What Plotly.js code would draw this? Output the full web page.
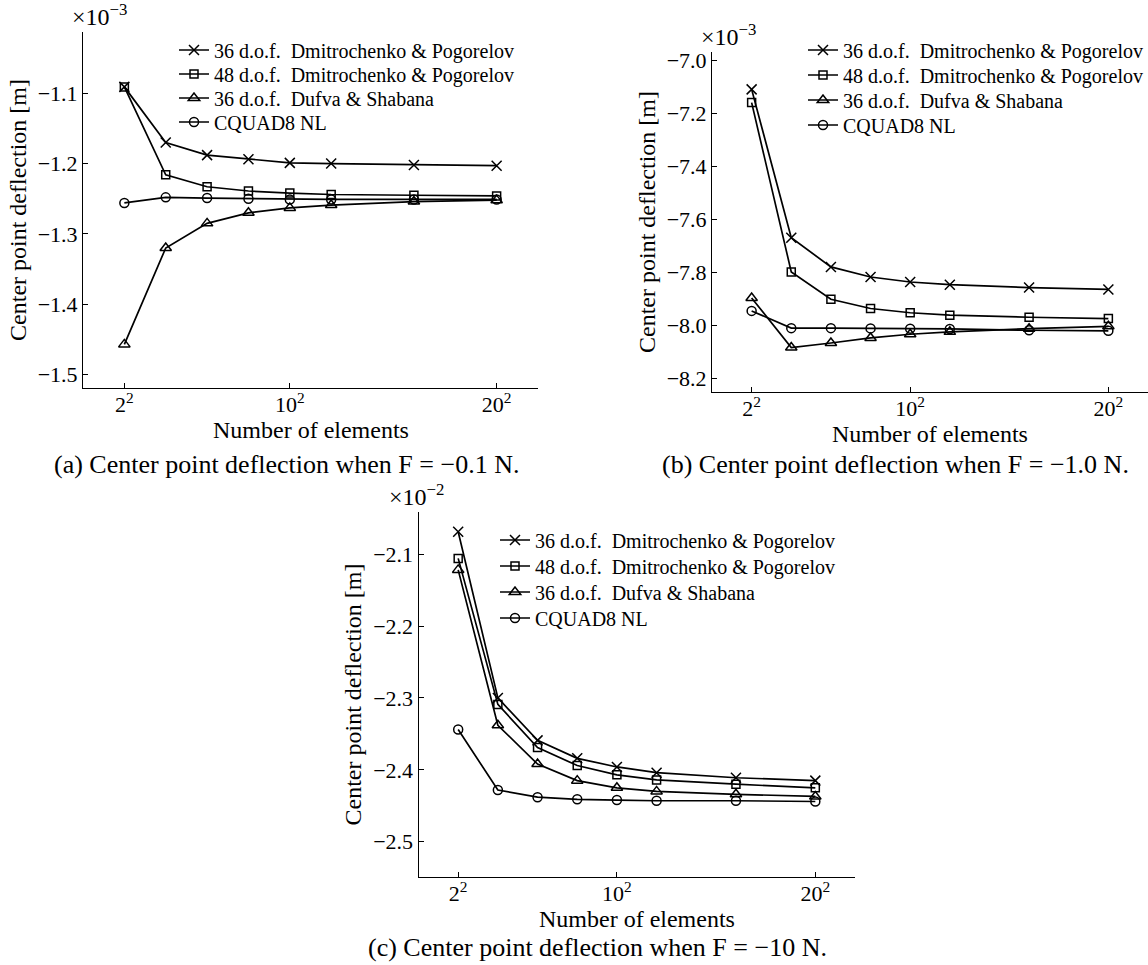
<!DOCTYPE html>
<html>
<head>
<meta charset="utf-8">
<script src="https://cdn.plot.ly/plotly-3.0.1.min.js"></script>
<style>
  html, body { margin: 0; padding: 0; background: #fff; }
  #chart { width: 1148px; height: 965px; }
</style>
</head>
<body>
<div id="chart"></div>
<script>
// Elements per side; number of elements = n^2
const elementsPerSide = [2, 4, 6, 8, 10, 12, 16, 20];
const xTickVals = [2, 10, 20];
const xTickText = ['2<sup>2</sup>', '10<sup>2</sup>', '20<sup>2</sup>'];

const seriesNames = [
  '36 d.o.f.  Dmitrochenko &amp; Pogorelov',
  '48 d.o.f.  Dmitrochenko &amp; Pogorelov',
  '36 d.o.f.  Dufva &amp; Shabana',
  'CQUAD8 NL'
];

// (a) F = -0.1 N, values in 1e-3 m
const dp36_a = [-1.091, -1.170, -1.188, -1.194, -1.199, -1.200, -1.202, -1.203];
const dp48_a = [-1.091, -1.216, -1.233, -1.239, -1.242, -1.244, -1.245, -1.246];
const ds36_a = [-1.457, -1.320, -1.285, -1.270, -1.263, -1.259, -1.254, -1.252];
const cq8_a  = [-1.256, -1.248, -1.249, -1.250, -1.251, -1.251, -1.251, -1.251];

// (b) F = -1.0 N, values in 1e-3 m
const dp36_b = [-7.110, -7.670, -7.780, -7.818, -7.837, -7.847, -7.858, -7.865];
const dp48_b = [-7.160, -7.799, -7.902, -7.937, -7.953, -7.962, -7.970, -7.975];
const ds36_b = [-7.897, -8.084, -8.067, -8.048, -8.034, -8.025, -8.013, -8.004];
const cq8_b  = [-7.946, -8.011, -8.011, -8.012, -8.013, -8.014, -8.019, -8.021];

// (c) F = -10 N, values in 1e-2 m
const dp36_c = [-2.069, -2.300, -2.359, -2.384, -2.396, -2.404, -2.411, -2.415];
const dp48_c = [-2.106, -2.309, -2.369, -2.394, -2.407, -2.414, -2.420, -2.425];
const ds36_c = [-2.122, -2.338, -2.392, -2.415, -2.425, -2.430, -2.434, -2.437];
const cq8_c  = [-2.344, -2.428, -2.438, -2.441, -2.442, -2.443, -2.443, -2.444];

const yTicks_a = [-1.5, -1.4, -1.3, -1.2, -1.1];
const yTicks_b = [-8.2, -8.0, -7.8, -7.6, -7.4, -7.2, -7.0];
const yTicks_c = [-2.5, -2.4, -2.3, -2.2, -2.1];

const W = 1148, H = 965;
const FONT = 'Liberation Serif, Times New Roman, serif';
const px = v => v / W;
const py = v => 1 - v / H;

const symbols = ['x-thin', 'square-open', 'triangle-up-open', 'circle-open'];
const sizes = [10, 8, 10, 9];

let legendCounter = 0;
const legendIds = [];
function makeTraces(sets, xa, ya) {
  return sets.map((ys, i) => {
    legendCounter += 1;
    const id = legendCounter === 1 ? 'legend' : 'legend' + legendCounter;
    legendIds.push(id);
    return {
      x: elementsPerSide,
      y: ys,
      name: seriesNames[i],
      type: 'scatter',
      mode: 'lines+markers',
      xaxis: xa,
      yaxis: ya,
      legend: id,
      line: { color: '#000', width: 1.7 },
      marker: { symbol: symbols[i], size: sizes[i], color: '#000',
                line: { color: '#000', width: 1.5 } }
    };
  });
}

const traces = [
  ...makeTraces([dp36_a, dp48_a, ds36_a, cq8_a], 'x', 'y'),
  ...makeTraces([dp36_b, dp48_b, ds36_b, cq8_b], 'x2', 'y2'),
  ...makeTraces([dp36_c, dp48_c, ds36_c, cq8_c], 'x3', 'y3')
];

const tickFont = { family: FONT, size: 22, color: '#000' };
const titleFont = { family: FONT, size: 24, color: '#000' };

function xAxis(domain, anchor) {
  return {
    domain: domain, anchor: anchor, range: [0, 22],
    tickvals: xTickVals, ticktext: xTickText,
    ticks: 'inside', ticklen: 5, tickwidth: 1, tickcolor: '#000',
    ticklabelstandoff: -3,
    showline: true, linecolor: '#000', linewidth: 1,
    showgrid: false, zeroline: false,
    tickfont: tickFont
  };
}
function yAxis(domain, anchor, range, tickvals) {
  return {
    domain: domain, anchor: anchor, range: range,
    tickvals: tickvals, tickformat: '.1f',
    ticks: 'inside', ticklen: 5, tickwidth: 1, tickcolor: '#000',
    showline: true, linecolor: '#000', linewidth: 1,
    showgrid: false, zeroline: false,
    tickfont: tickFont,
    title: { text: 'Center point deflection [m]', font: titleFont, standoff: 4 }
  };
}

const legendBase = {
  xanchor: 'left', yanchor: 'middle', bgcolor: 'rgba(0,0,0,0)',
  borderwidth: 0, font: { family: FONT, size: 20, color: '#000' },
  tracegroupgap: 0, itemwidth: 30
};
// legend rows (pixel x of legend box, pixel y of row centre)
const legendX = [174, 174, 174, 174, 803, 803, 803, 803, 495, 495, 495, 495];
const legendY = [50, 74, 98, 122, 50, 75, 100, 125, 540, 566, 592, 618];

function note(text, x, y, size, xanchor, yanchor) {
  return { text: text, x: px(x), y: py(y), xref: 'paper', yref: 'paper',
           xanchor: xanchor, yanchor: yanchor, showarrow: false,
           font: { family: FONT, size: size, color: '#000' } };
}

const layout = {
  width: W, height: H,
  margin: { l: 0, r: 0, t: 0, b: 0 },
  paper_bgcolor: '#fff', plot_bgcolor: '#fff',
  showlegend: true,
  font: { family: FONT, color: '#000' },
  xaxis:  xAxis([px(83), px(538)], 'y'),
  yaxis:  yAxis([py(388), py(32)], 'x', [-1.519, -1.013], yTicks_a),
  xaxis2: xAxis([px(712), px(1148)], 'y2'),
  yaxis2: yAxis([py(392), py(52)], 'x2', [-8.252, -6.969], yTicks_b),
  xaxis3: xAxis([px(418.5), px(855)], 'y3'),
  yaxis3: yAxis([py(877), py(512)], 'x3', [-2.549, -2.0415], yTicks_c),
  annotations: [
    note('×10<sup>−3</sup>', 70, 32, 24, 'left', 'bottom'),
    note('×10<sup>−3</sup>', 699, 52, 24, 'left', 'bottom'),
    note('×10<sup>−2</sup>', 387, 512, 24, 'left', 'bottom'),
    note('Number of elements', 310.5, 430, 24, 'center', 'middle'),
    note('Number of elements', 930, 434, 24, 'center', 'middle'),
    note('Number of elements', 636.5, 919, 24, 'center', 'middle'),
    note('(a) Center point deflection when F = −0.1 N.', 286, 465, 26, 'center', 'middle'),
    note('(b) Center point deflection when F = −1.0 N.', 895, 465, 26, 'center', 'middle'),
    note('(c) Center point deflection when F = −10 N.', 597, 947, 26, 'center', 'middle')
  ]
};
legendIds.forEach((id, i) => {
  layout[id] = Object.assign({}, legendBase, { x: px(legendX[i]), y: py(legendY[i]) });
});

Plotly.newPlot('chart', traces, layout, { displayModeBar: false, staticPlot: true });
</script>
</body>
</html>
